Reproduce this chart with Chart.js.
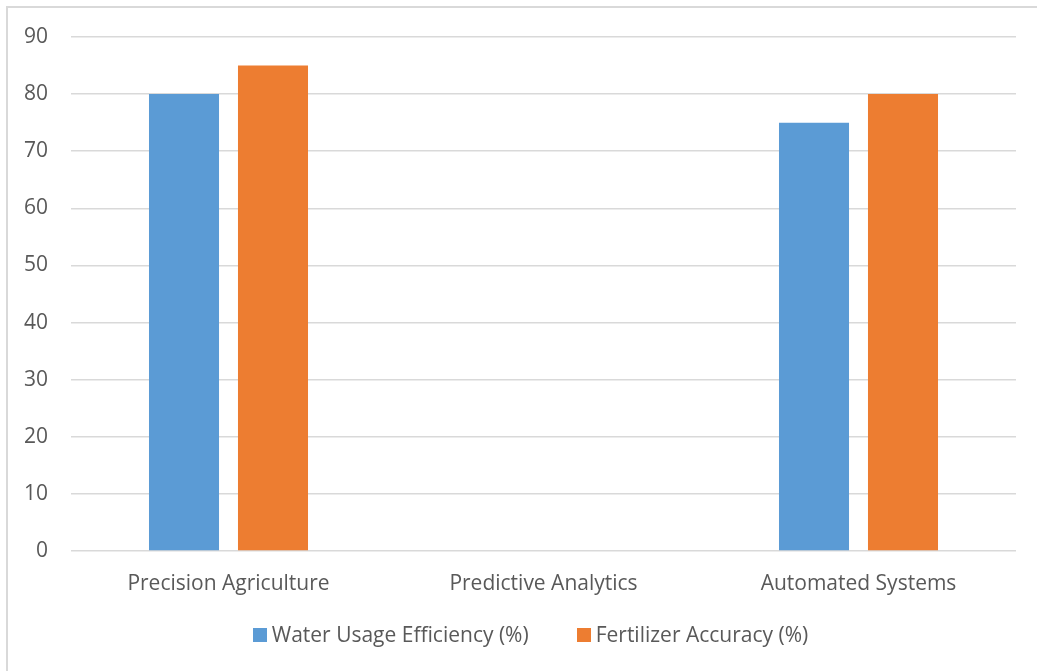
<!DOCTYPE html>
<html>
<head>
<meta charset="utf-8">
<script src="https://cdn.jsdelivr.net/npm/chart.js@4.4.1/dist/chart.umd.min.js"></script>
<style>
  html, body { margin: 0; padding: 0; background: #ffffff; overflow: hidden; }
  #frame {
    position: absolute; left: 0; top: 0; width: 1037px; height: 671px;
  }
  #edge {
    position: absolute; left: 6px; top: 6px; width: 1100px; height: 700px;
    border-left: 2px solid #d9d9d9; border-top: 2px solid #d9d9d9;
    box-sizing: border-box; pointer-events: none;
  }
  canvas { position: absolute; left: 0; top: 0; }
</style>
</head>
<body>
<div id="frame">
  <canvas id="chart" width="1037" height="671"></canvas>
  <div id="edge"></div>
</div>
<script>
// Technology categories along the x axis
const categories = ['Precision Agriculture', 'Predictive Analytics', 'Automated Systems'];

// Series values (percent); Predictive Analytics has no recorded values
const waterUsageEfficiency = [80, null, 75];
const fertilizerAccuracy = [85, null, 80];

// Value axis range
const yMin = 0;
const yMax = 90;
const yStep = 10;

const textColor = '#595959';
const fontFamily = "'Open Sans', 'Noto Sans', sans-serif";
const axisFontSize = 21;
const legendFontSize = 21;

Chart.defaults.font.family = fontFamily;
Chart.defaults.font.size = axisFontSize;
Chart.defaults.color = textColor;

// Legend row under the axis: square swatch, short gap, label, wider gap between entries
const bottomLegend = {
  id: 'bottomLegend',
  afterDraw(chart) {
    const ctx = chart.ctx;
    const box = 14, swatchGap = 5, itemGap = 48;
    const centerX = chart.width / 2 + 12;
    const centerY = 635;
    ctx.save();
    ctx.font = legendFontSize + 'px ' + fontFamily;
    ctx.textBaseline = 'middle';
    ctx.textAlign = 'left';
    const items = chart.data.datasets.map(ds => ({
      text: ds.label,
      color: ds.backgroundColor,
      width: box + swatchGap + ctx.measureText(ds.label).width
    }));
    const total = items.reduce((s, it) => s + it.width, 0) + itemGap * (items.length - 1);
    let x = centerX - total / 2;
    items.forEach(it => {
      ctx.fillStyle = it.color;
      ctx.fillRect(Math.round(x), Math.round(centerY - box / 2), box, box);
      ctx.fillStyle = textColor;
      ctx.fillText(it.text, x + box + swatchGap, centerY + 1);
      x += it.width + itemGap;
    });
    ctx.restore();
  }
};

new Chart(document.getElementById('chart'), {
  type: 'bar',
  data: {
    labels: categories,
    datasets: [
      {
        label: 'Water Usage Efficiency (%)',
        data: waterUsageEfficiency,
        backgroundColor: '#5B9BD5',
        borderWidth: 0,
        categoryPercentage: 0.565,
        barPercentage: 0.787
      },
      {
        label: 'Fertilizer Accuracy (%)',
        data: fertilizerAccuracy,
        backgroundColor: '#ED7D31',
        borderWidth: 0,
        categoryPercentage: 0.565,
        barPercentage: 0.787
      }
    ]
  },
  options: {
    responsive: false,
    animation: false,
    devicePixelRatio: 1,
    layout: { padding: { left: 0, right: 21, top: 37, bottom: 0 } },
    plugins: {
      tooltip: { enabled: false },
      legend: { display: false }
    },
    scales: {
      x: {
        grid: { display: false },
        border: { display: false },
        ticks: {
          color: textColor,
          font: { family: fontFamily, size: axisFontSize },
          padding: 12,
          maxRotation: 0
        },
        afterFit: (scale) => { scale.height = 120; }
      },
      y: {
        min: yMin,
        max: yMax,
        ticks: {
          stepSize: yStep,
          color: textColor,
          font: { family: fontFamily, size: axisFontSize },
          padding: 23
        },
        grid: { color: '#d9d9d9', lineWidth: 1.5, drawTicks: false },
        border: { display: false },
        afterFit: (scale) => { scale.width = 71; }
      }
    }
  },
  plugins: [bottomLegend]
});
</script>
</body>
</html>
